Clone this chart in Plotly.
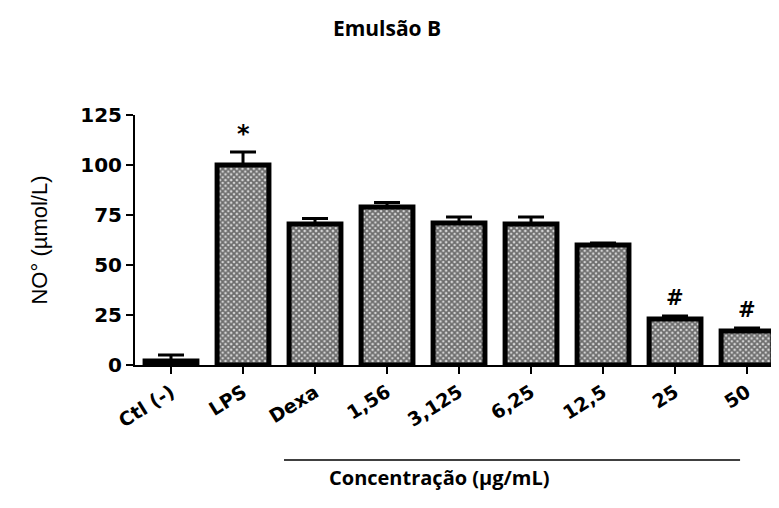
import plotly.graph_objects as go

categories = ["Ctl (-)", "LPS", "Dexa", "1,56", "3,125", "6,25", "12,5", "25", "50"]
values = [2, 100, 70.5, 79, 71, 70.5, 60, 23, 17]
errors = [3, 6.5, 2.8, 2.2, 3, 3.5, 1, 1.5, 1.5]
marks = ["", "*", "", "", "", "", "", "#", "#"]
y_ticks = [0, 25, 50, 75, 100, 125]

fig = go.Figure()
fig.add_trace(go.Bar(
    x=list(range(len(categories))), y=values,
    width=0.72,
    marker=dict(color="#888888",
                line=dict(color="black", width=5),
                pattern=dict(shape="x", size=4, solidity=0.7,
                             fgcolor="#000000", bgcolor="#d8d8d8")),
    error_y=dict(type="data", symmetric=False, array=errors,
                 arrayminus=[0]*len(errors), color="black",
                 thickness=3, width=13),
    showlegend=False,
))

for i, (v, e, m) in enumerate(zip(values, errors, marks)):
    if m:
        fig.add_annotation(x=i, y=v + e, text="<b>%s</b>" % m, showarrow=False,
                           yanchor="bottom", yshift=4 if m == "#" else 2,
                           font=dict(family="DejaVu Sans", size=21 if m == "#" else 24,
                                     color="black"))

fig.add_shape(type="line", xref="paper", yref="paper",
              x0=0.2317, x1=0.941, y0=-0.38, y1=-0.38,
              line=dict(color="black", width=1.5))
fig.add_annotation(xref="paper", yref="paper", x=0.473, y=-0.512,
                   text="<b>Concentração (µg/mL)</b>", showarrow=False,
                   font=dict(family="Open Sans", size=20, color="black"))

fig.update_layout(
    width=771, height=492,
    margin=dict(l=127, r=1, t=107, b=135),
    paper_bgcolor="white", plot_bgcolor="white",
    title=dict(text="<b>Emulsão B</b>", x=0.4916, xref="container", y=0.959, yref="container",
               xanchor="center", yanchor="middle",
               font=dict(family="Open Sans", size=21, color="black")),
)
fig.update_xaxes(
    range=[-0.5, 8.43], tickmode="array", tickvals=list(range(len(categories))),
    ticktext=["<b>%s</b>" % c for c in categories], tickangle=-32,
    showline=True, linecolor="black", linewidth=2,
    ticks="outside", ticklen=7, tickwidth=2, tickcolor="black",
    tickfont=dict(family="DejaVu Sans", size=19, color="black"),
    showgrid=False, zeroline=False,
)
fig.update_yaxes(
    range=[0, 125], tickmode="array", tickvals=y_ticks,
    ticktext=["<b>%d</b>" % t for t in y_ticks],
    showline=True, linecolor="black", linewidth=2,
    ticks="outside", ticklen=7, tickwidth=2, tickcolor="black",
    tickfont=dict(family="DejaVu Sans", size=20, color="black"),
    title=dict(text="NO° (µmol/L)", standoff=27,
               font=dict(family="Liberation Sans", size=22, color="black")),
    showgrid=False, zeroline=False,
)

fig.write_html("out.html")
